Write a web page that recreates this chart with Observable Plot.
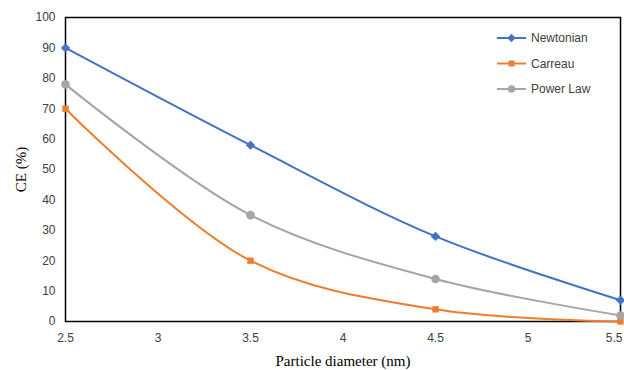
<!DOCTYPE html>
<html><head><meta charset="utf-8">
<script src="https://cdn.jsdelivr.net/npm/d3@7"></script>
<script src="https://cdn.jsdelivr.net/npm/@observablehq/plot@0.6"></script>
<style>body{margin:0;background:#fff}</style>
</head><body><div id="chart"></div>
<script>
const diameters = [2.5, 3.5, 4.5, 5.5];
const newtonian = [90, 58, 28, 7];
const carreau = [70, 20, 4, 0];
const powerLaw = [78, 35, 14, 2];
const seriesNames = ["Newtonian", "Carreau", "Power Law"];
const seriesColors = ["#4472C4", "#ED7D31", "#A5A5A5"];
const seriesSymbols = ["diamond2", "square", "circle"];
const xTicks = [2.5, 3, 3.5, 4, 4.5, 5, 5.5];
const yTicks = [0, 10, 20, 30, 40, 50, 60, 70, 80, 90, 100];

const values = [newtonian, carreau, powerLaw];
const data = [];
values.forEach((arr, i) => arr.forEach((v, j) => data.push({series: seriesNames[i], x: diameters[j], y: v})));

const chart = Plot.plot({
  width: 624, height: 370,
  marginLeft: 65, marginRight: 4, marginTop: 17, marginBottom: 49,
  style: {fontFamily: "Liberation Sans, Arial, sans-serif", fontSize: "12px", color: "#404040", background: "#fff"},
  x: {domain: [2.5, 5.5], ticks: xTicks, tickSize: 0, tickPadding: 12, label: "Particle diameter (nm)", labelArrow: "none", labelAnchor: "center", labelOffset: 44, tickFormat: d => String(d)},
  y: {domain: [0, 100], ticks: yTicks, tickSize: 0, tickPadding: 10, label: "CE (%)", labelArrow: "none", labelAnchor: "center", labelOffset: 50},
  color: {domain: seriesNames, range: seriesColors},
  symbol: {domain: seriesNames, range: seriesSymbols},
  marks: [
    Plot.frame({stroke: "#000", strokeWidth: 1.5}),
    Plot.line(data, {x: "x", y: "y", z: "series", stroke: "series", strokeWidth: 2, curve: "catmull-rom"}),
    Plot.dot(data.filter(d => d.series === "Newtonian"), {x: "x", y: "y", fill: "series", stroke: "none", symbol: "series", r: 4.2}),
    Plot.dot(data.filter(d => d.series === "Carreau"), {x: "x", y: "y", fill: "series", stroke: "none", symbol: "series", r: 3.6}),
    Plot.dot(data.filter(d => d.series === "Power Law"), {x: "x", y: "y", fill: "series", stroke: "none", symbol: "series", r: 4.3})
  ]
});
document.getElementById("chart").append(chart);

const svg = d3.select(chart);
svg.selectAll("[aria-label='x-axis label'], [aria-label='y-axis label'], [aria-label='x-axis label'] text, [aria-label='y-axis label'] text")
  .style("font-family", "'Liberation Serif', 'Times New Roman', serif").style("font-size", "15px").attr("fill", "#000");
// keep the last x tick label inside the picture
svg.selectAll("text").filter(function() { return this.textContent === String(xTicks[xTicks.length - 1]); })
  .attr("text-anchor", "end").attr("dx", 2);

// legend
const lg = svg.append("g").attr("font-family", "Liberation Sans, Arial, sans-serif").attr("font-size", 12).attr("text-anchor", "start");
const sym = {diamond2: d3.symbolDiamond2, square: d3.symbolSquare, circle: d3.symbolCircle};
seriesNames.forEach((name, i) => {
  const y = 38 + i * 25.5;
  const g = lg.append("g").attr("transform", `translate(0,${y})`);
  g.append("line").attr("x1", 497).attr("x2", 526).attr("stroke", seriesColors[i]).attr("stroke-width", 2);
  g.append("path").attr("transform", "translate(511.5,0)")
    .attr("d", d3.symbol(sym[seriesSymbols[i]], i === 1 ? 36 : 44)()).attr("fill", seriesColors[i]);
  g.append("text").attr("x", 531).attr("dy", "0.35em").attr("text-anchor", "start").attr("fill", "#404040").text(name);
});
</script>
</body></html>
